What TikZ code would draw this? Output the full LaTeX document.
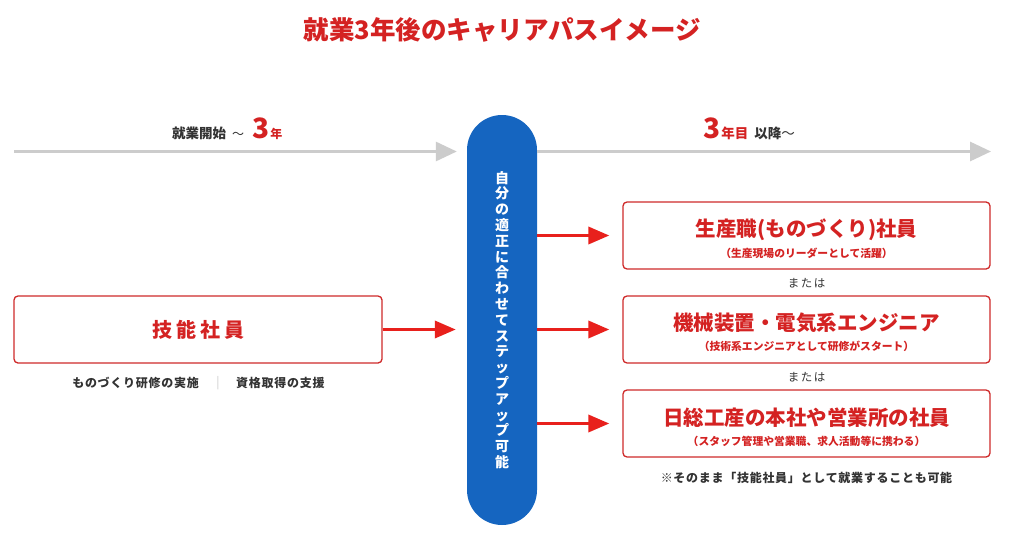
\documentclass[tikz,border=0pt]{standalone}
\usepackage{fontspec}
\setmainfont{Noto Sans CJK JP}
\usetikzlibrary{arrows.meta}
\definecolor{tred}{HTML}{D42222}
\definecolor{bred}{HTML}{CF2A2A}
\definecolor{ared}{HTML}{E8201C}
\definecolor{pblue}{HTML}{1565C0}
\definecolor{lgray}{HTML}{CCCCCC}
\definecolor{dtext}{HTML}{333333}
\newcommand{\myfs}[1]{\fontsize{#1}{#1}\selectfont}
\begin{document}
\begin{tikzpicture}[x=1pt,y=-1pt,
  cbox/.style={draw=bred, line width=1.3pt, rounded corners=4pt, minimum width=367pt, minimum height=67pt, inner sep=0pt},
  btitle/.style={text=tred, font=\myfs{20.5}\bfseries, inner sep=0pt},
  bsub/.style={text=tred, font=\myfs{10.8}\bfseries, inner sep=0pt},
  gtext/.style={text=dtext, font=\myfs{12}\bfseries\addfontfeature{LetterSpace=6}, inner sep=0pt},
  orlabel/.style={text=dtext, font=\myfs{11.5}, inner sep=0pt},
  grayarrow/.style={draw=lgray, line width=3pt, -{Triangle[length=21pt,width=19pt]}},
  redarrow/.style={draw=ared, line width=3.5pt, -{Triangle[length=21pt,width=17pt]}},
  pill/.style={fill=pblue, minimum width=70pt, minimum height=410pt, rounded corners=35pt, inner sep=0pt, text=white, align=center, font=\fontsize{14}{15.8}\selectfont\bfseries}
]
\useasboundingbox[fill=white] (0,0) rectangle (1024,546);

% title
\node[text=tred, font=\myfs{25.5}\bfseries, inner sep=0pt] (title) at (502,30) {就業3年後のキャリアパスイメージ};

% timeline labels
\node[anchor=base west, inner sep=0pt, text=dtext] (lstart) at (172,138)
  {\myfs{13.5}\bfseries 就業開始\hspace{6pt}\myfs{12}\mdseries〜\hspace{8pt}{\color{tred}\myfs{28}\bfseries 3\hspace{1pt}\myfs{12}年}};
\node[anchor=base west, inner sep=0pt, text=dtext] (lafter) at (703,138)
  {{\color{tred}\myfs{28}\bfseries 3\hspace{1pt}\myfs{13.5}年目}\hspace{6pt}\myfs{13.5}\bfseries 以降\mdseries 〜};

% pill
\node[pill] (pill) at (502,320) {自\\分\\の\\適\\正\\に\\合\\わ\\せ\\て\\ス\\テ\\ッ\\プ\\ア\\ッ\\プ\\可\\能};

% gray arrows
\coordinate (gs) at (14,151.5);
\coordinate (ge) at (991,151.5);
\draw[grayarrow, shorten >=10pt] (gs) -- (pill.west |- gs);
\draw[grayarrow] (pill.east |- gs) -- (ge);

% left box
\node[cbox, minimum width=368pt] (lbox) at (198,329.5) {};
\node[text=tred, font=\myfs{20}\bfseries, inner sep=0pt] (ltitle) at (lbox) {技\kern4pt 能\kern4pt 社\kern4pt 員};
\node[gtext, anchor=east] (lsub1) at (199,383) {ものづくり研修の実施};
\node[text=lgray, font=\myfs{12}, inner sep=0pt] (lbar) at (218,383) {|};
\node[gtext, anchor=west] (lsub2) at (236,383) {資格取得の支援};

% right boxes
\node[cbox] (b1) at (806.5,235.5) {};
\node[cbox] (b2) at (806.5,329.5) {};
\node[cbox] (b3) at (806.5,423.5) {};

\node[btitle] (t1) at (806.5,229.5) {生産職(ものづくり)社員};
\node[bsub] (s1) at (806.5,253) {（生産現場のリーダーとして活躍）};
\node[btitle] (t2) at (806.5,323) {機械装置・電気系エンジニア};
\node[bsub] (s2) at (806.5,346) {（技術系エンジニアとして研修がスタート）};
\node[btitle] (t3) at (806.5,417.5) {日総工産の本社や営業所の社員};
\node[bsub] (s3) at (806.5,441.5) {（スタッフ管理や営業職、求人活動等に携わる）};

\node[orlabel] (or1) at (806.5,283) {ま\kern1.5pt た\kern1.5pt は};
\node[orlabel] (or2) at (806.5,377.5) {ま\kern1.5pt た\kern1.5pt は};

\node[gtext] (note) at (806.5,477.5) {※そのまま「技能社員」として就業することも可能};

% red arrows
\draw[redarrow, shorten >=11pt] (lbox.east) -- (pill.west |- lbox.east);
\draw[redarrow, shorten >=13pt] (pill.east |- b1.west) -- (b1.west);
\draw[redarrow, shorten >=13pt] (pill.east |- b2.west) -- (b2.west);
\draw[redarrow, shorten >=13pt] (pill.east |- b3.west) -- (b3.west);
\end{tikzpicture}
\end{document}
